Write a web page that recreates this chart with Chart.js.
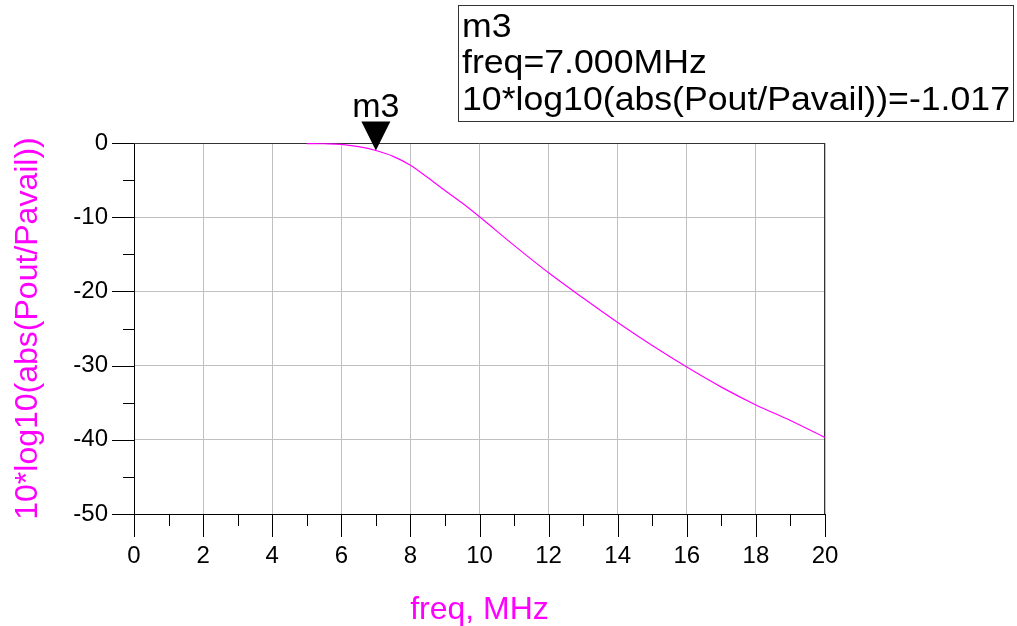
<!DOCTYPE html>
<html>
<head>
<meta charset="utf-8">
<script src="https://cdn.jsdelivr.net/npm/chart.js@4.4.0/dist/chart.umd.min.js"></script>
<style>
html,body{margin:0;padding:0;background:#fff;}
#wrap{width:1017px;height:626px;}
</style>
</head>
<body>
<div id="wrap"><canvas id="myChart" width="1017" height="626"></canvas></div>
<script>
// values
var freq=[5,5.5,6,6.5,7,7.5,8,8.5,9,9.5,10,11,12,13,14,15,16,17,18,19,20];
var gain=[-0.08,-0.1,-0.18,-0.5,-1.017,-1.8,-3.0,-4.65,-6.4,-8.1,-9.95,-13.8,-17.5,-20.9,-24.2,-27.3,-30.2,-32.9,-35.3,-37.4,-39.7];
var marker={name:'m3',x:7,y:-1.017};
var markerLines=['m3','freq=7.000MHz','10*log10(abs(Pout/Pavail))=-1.017'];
var yTitle='10*log10(abs(Pout/Pavail))';
var xTitle='freq, MHz';

var FONT='"Liberation Sans", Arial, sans-serif';

var extras={
	id:'extras',
	beforeDatasetsDraw:function(chart){
		var c=chart.ctx,a=chart.chartArea;
		var xs=chart.scales.x,ys=chart.scales.y;
		c.save();
		// top / right frame
		c.strokeStyle='#333';c.lineWidth=1;
		c.beginPath();
		c.moveTo(a.left,a.top+0.5);c.lineTo(a.right,a.top+0.5);
		c.moveTo(a.right-0.5,a.top);c.lineTo(a.right-0.5,a.bottom);
		c.stroke();
		// tick marks, major and minor
		c.strokeStyle='#000';
		c.beginPath();
		for(var v=0;v<=20;v++){
			var px=Math.round(xs.getPixelForValue(v))+0.5;
			c.moveTo(px,a.bottom);c.lineTo(px,a.bottom+(v%2==0?23:12));
		}
		for(var w=-50;w<=0;w+=5){
			var py=Math.round(ys.getPixelForValue(w))+0.5;
			c.moveTo(a.left,py);c.lineTo(a.left-(w%10==0?22:11),py);
		}
		c.stroke();
		c.restore();
	},
	afterDatasetsDraw:function(chart){
		var c=chart.ctx;
		var xs=chart.scales.x,ys=chart.scales.y;
		var mx=xs.getPixelForValue(marker.x),my=ys.getPixelForValue(marker.y);
		c.save();
		c.fillStyle='#000';
		c.beginPath();
		c.moveTo(mx,my);c.lineTo(mx-14.5,my-29);c.lineTo(mx+14.5,my-29);c.closePath();
		c.fill();
		c.font='34px '+FONT;
		c.textAlign='center';c.textBaseline='alphabetic';
		c.fillText(marker.name,mx,my-34);
		// readout box
		c.fillStyle='#fff';
		c.fillRect(458,5,556,117);
		c.strokeStyle='#333';c.lineWidth=1;
		c.strokeRect(458.5,5.5,555,116);
		c.fillStyle='#000';c.textAlign='left';
		var widest=0;
		for(var k=0;k<markerLines.length;k++){widest=Math.max(widest,c.measureText(markerLines[k]).width);}
		var sx=548/widest;
		var base=[37,73,110];
		for(var i=0;i<markerLines.length;i++){
			c.save();
			c.translate(462,base[i]);c.scale(sx,1);
			c.fillText(markerLines[i],0,0);
			c.restore();
		}
		c.restore();
	}
};

var ctx=document.getElementById('myChart').getContext('2d');
var myChart=new Chart(ctx,{
	type:'line',
	data:{
		datasets:[{
			label:yTitle,
			data:freq.map(function(f,i){return {x:f,y:gain[i]};}),
			borderColor:'#ff00ff',
			borderWidth:1.2,
			pointRadius:0,
			fill:false,
			cubicInterpolationMode:'monotone'
		}]
	},
	options:{
		responsive:false,
		animation:false,
		layout:{padding:{left:0,right:192,top:143,bottom:0}},
		plugins:{legend:{display:false},tooltip:{enabled:false}},
		scales:{
			x:{
				type:'linear',min:0,max:20,
				afterFit:function(s){s.height=112;},
				ticks:{stepSize:2,padding:28,color:'#000',font:{family:FONT,size:24}},
				grid:{color:'#c0c0c0',drawTicks:false,lineWidth:1},
				border:{color:'#000',width:1},
				title:{display:true,text:xTitle,color:'#ff00ff',font:{family:FONT,size:32,lineHeight:1},padding:{top:0,bottom:0}}
			},
			y:{
				min:-50,max:0,
				afterFit:function(s){s.width=134;},
				ticks:{stepSize:10,padding:26,color:'#000',font:{family:FONT,size:24}},
				grid:{color:'#c0c0c0',drawTicks:false,lineWidth:1},
				border:{color:'#000',width:1},
				title:{display:true,text:yTitle,color:'#ff00ff',font:{family:FONT,size:32,lineHeight:1.2},padding:{top:9,bottom:0}}
			}
		}
	},
	plugins:[extras]
});
</script>
</body>
</html>
